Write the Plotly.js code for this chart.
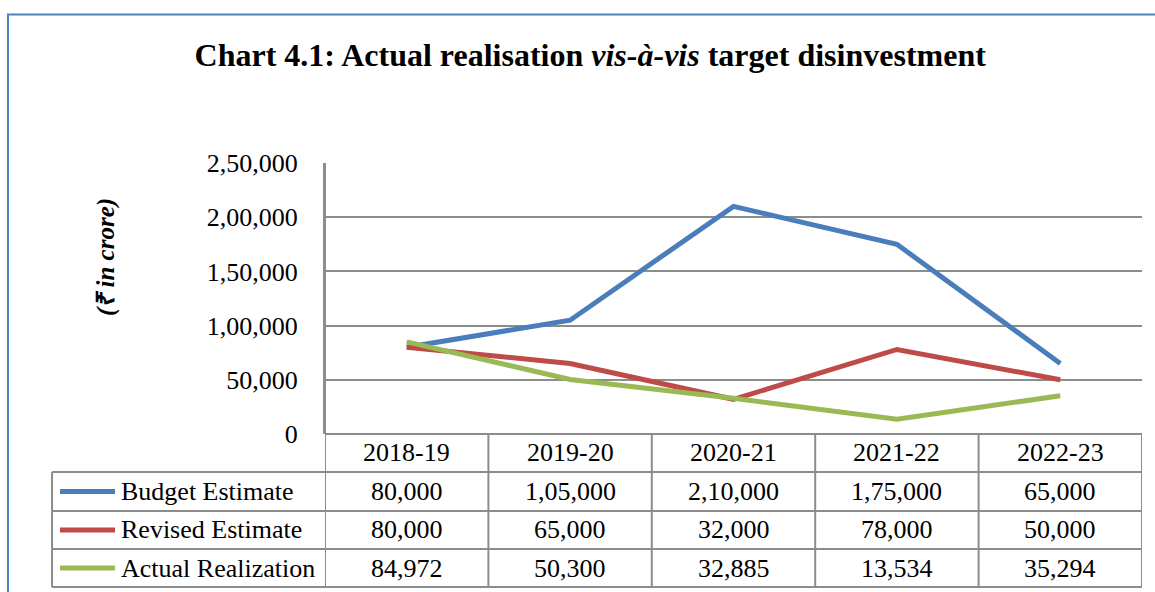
<!DOCTYPE html>
<html>
<head>
<meta charset="utf-8">
<script src="https://cdn.plot.ly/plotly-3.0.1.min.js"></script>
<style>html,body{margin:0;padding:0;background:#fff;}#chart{width:1155px;height:592px;}</style>
</head>
<body>
<div id="chart"></div>
<script>
const years = ["2018-19", "2019-20", "2020-21", "2021-22", "2022-23"];
const seriesNames = ["Budget Estimate", "Revised Estimate", "Actual Realization"];
const budgetEstimate = [80000, 105000, 210000, 175000, 65000];
const revisedEstimate = [80000, 65000, 32000, 78000, 50000];
const actualRealization = [84972, 50300, 32885, 13534, 35294];
const yTickVals = [0, 50000, 100000, 150000, 200000, 250000];
const yTickText = ["0", "50,000", "1,00,000", "1,50,000", "2,00,000", "2,50,000"];
const colors = ["#4A7EBB", "#BE4B48", "#98B954"];

const FONT = "Liberation Serif, Times New Roman, serif";
const GRID = "#8c8c8c";

function formatINR(n) {
  const s = String(Math.round(n));
  if (s.length <= 3) return s;
  const last3 = s.slice(-3);
  let rest = s.slice(0, -3);
  const parts = [];
  while (rest.length > 2) { parts.unshift(rest.slice(-2)); rest = rest.slice(0, -2); }
  if (rest.length) parts.unshift(rest);
  return parts.join(",") + "," + last3;
}

const allSeries = [budgetEstimate, revisedEstimate, actualRealization];
const xIdx = years.map((_, i) => i);

const traces = allSeries.map((vals, k) => ({
  type: "scatter", mode: "lines", x: xIdx, y: vals, name: seriesNames[k],
  line: {color: colors[k], width: 5}, hoverinfo: "x+y"
}));

// table geometry in paper units (plot spans y 163..434 px, x 325..1142 px)
const rowLines = [-0.1402, -0.2841, -0.4244, -0.5646];
const rowCenters = [-0.0701, -0.2122, -0.3542, -0.4945];
const tableLeft = -0.3341;

const shapes = [];
// outer blue frame
shapes.push({type: "rect", xref: "paper", yref: "paper", x0: -0.388, x1: 1.2, y0: -0.8, y1: 1.548,
  line: {color: "#4F81BD", width: 2}});
// horizontal table lines
rowLines.forEach(y => shapes.push({type: "line", xref: "paper", yref: "paper", x0: tableLeft, x1: 1, y0: y, y1: y,
  line: {color: GRID, width: 2}}));
// vertical lines at category boundaries
for (let i = 0; i <= years.length; i++) {
  shapes.push({type: "line", xref: "x", yref: "paper", x0: i - 0.5, x1: i - 0.5,
    y0: (i === 0 ? 1 : 0), y1: rowLines[3], line: {color: GRID, width: 2}});
}
// left border of label column
shapes.push({type: "line", xref: "paper", yref: "paper", x0: tableLeft, x1: tableLeft, y0: rowLines[0], y1: rowLines[3],
  line: {color: GRID, width: 2}});
// legend swatches
colors.forEach((c, k) => shapes.push({type: "line", xref: "paper", yref: "paper", x0: -0.3244, x1: -0.2570,
  y0: rowCenters[k + 1], y1: rowCenters[k + 1], line: {color: c, width: 5}}));

const annotations = [];
years.forEach((yr, i) => annotations.push({xref: "x", yref: "paper", x: i, y: rowCenters[0], text: yr,
  showarrow: false, font: {family: FONT, size: 26, color: "#000"}, xanchor: "center", yanchor: "middle"}));
allSeries.forEach((vals, k) => {
  annotations.push({xref: "paper", yref: "paper", x: -0.2521, y: rowCenters[k + 1], text: seriesNames[k],
    showarrow: false, font: {family: FONT, size: 26, color: "#000"}, xanchor: "left", yanchor: "middle"});
  vals.forEach((v, i) => annotations.push({xref: "x", yref: "paper", x: i, y: rowCenters[k + 1], text: formatINR(v),
    showarrow: false, font: {family: FONT, size: 26, color: "#000"}, xanchor: "center", yanchor: "middle"}));
});
annotations.push({xref: "paper", yref: "paper", x: -0.2680, y: 0.653, text: "<b><i>(₹ in crore)</i></b>",
  textangle: -90, showarrow: false, font: {family: FONT, size: 25, color: "#000"}, xanchor: "center", yanchor: "middle"});

const layout = {
  width: 1155, height: 592,
  margin: {l: 325, r: 13, t: 163, b: 158, pad: 0},
  paper_bgcolor: "#fff", plot_bgcolor: "#fff",
  showlegend: false,
  title: {text: "<b>Chart 4.1: Actual realisation <i>vis-à-vis</i> target disinvestment</b>",
    xref: "container", yref: "container", x: 0.511, y: 0.907, xanchor: "center", yanchor: "middle",
    font: {family: FONT, size: 32, color: "#000"}},
  xaxis: {type: "linear", range: [-0.5, 4.5], showgrid: false, zeroline: false, showline: false,
    showticklabels: false, ticks: "", fixedrange: true},
  yaxis: {range: [0, 250000], tickvals: yTickVals, ticktext: yTickText, showgrid: true, gridcolor: GRID, gridwidth: 2,
    zeroline: true, zerolinecolor: GRID, zerolinewidth: 2, showline: true, linecolor: GRID, linewidth: 2,
    ticks: "outside", ticklen: 20, tickcolor: "rgba(0,0,0,0)",
    tickfont: {family: FONT, size: 26, color: "#000"}, fixedrange: true},
  shapes: shapes,
  annotations: annotations
};

Plotly.newPlot("chart", traces, layout, {displayModeBar: false, staticPlot: true});
</script>
</body>
</html>
